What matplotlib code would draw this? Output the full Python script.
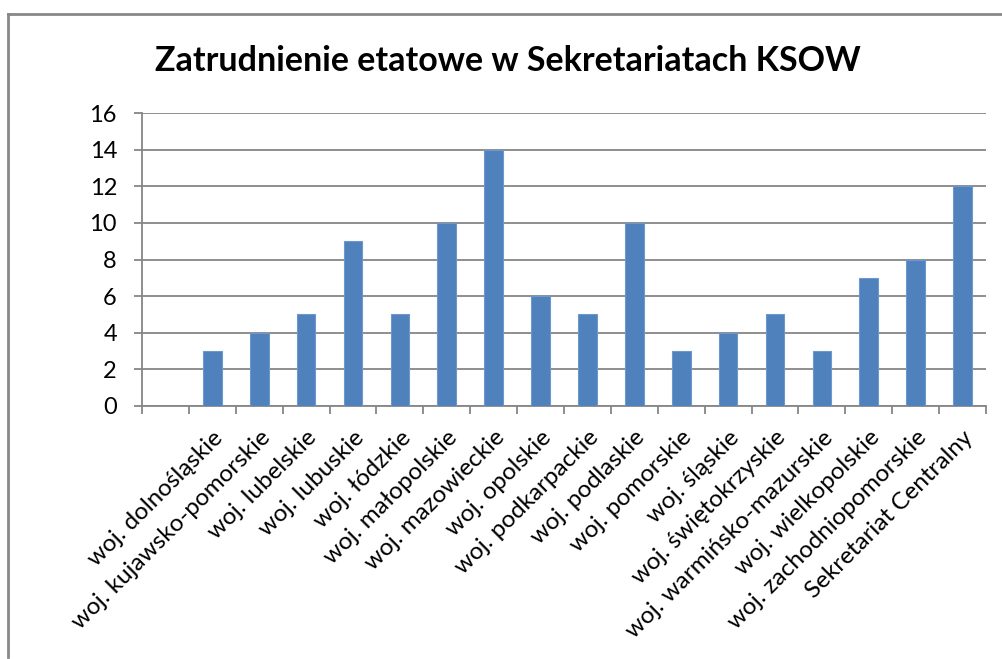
import matplotlib
matplotlib.use("Agg")
import matplotlib.pyplot as plt
from matplotlib.lines import Line2D

title = "Zatrudnienie etatowe w Sekretariatach KSOW"
categories = ["", "woj. dolnośląskie", "woj. kujawsko-pomorskie", "woj. lubelskie",
              "woj. lubuskie", "woj. łódzkie", "woj. małopolskie", "woj. mazowieckie",
              "woj. opolskie", "woj. podkarpackie", "woj. podlaskie", "woj. pomorskie",
              "woj. śląskie", "woj. świętokrzyskie", "woj. warmińsko-mazurskie",
              "woj. wielkopolskie", "woj. zachodniopomorskie", "Sekretariat Centralny"]
values = [None, 3, 4, 5, 9, 5, 10, 14, 6, 5, 10, 3, 4, 5, 3, 7, 8, 12]
y_ticks = [0, 2, 4, 6, 8, 10, 12, 14, 16]

plt.rcParams['font.family'] = ['Lato', 'DejaVu Sans']

W, H = 1003, 659
fig = plt.figure(figsize=(W / 100, H / 100), dpi=100)
ax = fig.add_axes([142 / W, 1 - 406 / H, (986 - 142) / W, (406 - 113) / H])

xs = list(range(len(categories)))
bx = [x for x, v in zip(xs, values) if v is not None]
bv = [v for v in values if v is not None]
ax.bar(bx, bv, width=0.4, color="#4F81BD", edgecolor="#6E97CB", linewidth=0.8, zorder=3)

ax.set_xlim(-0.5, len(categories) - 0.5)
ax.set_ylim(0, 16)
ax.set_yticks(y_ticks)
ax.set_yticklabels([str(t) for t in y_ticks], fontsize=17)
ax.yaxis.grid(True, color="#868686", linewidth=1.3, zorder=0)
ax.set_axisbelow(True)

# category boundary ticks
ax.set_xticks([x - 0.5 for x in xs] + [len(categories) - 0.5])
ax.set_xticklabels([])
ax.tick_params(axis="x", length=6, color="#868686", width=1.3)
ax.tick_params(axis="y", length=6, color="#868686", width=1.3, pad=12)
ax.set_xticks(xs, minor=True)
ax.set_xticklabels(categories, minor=True, rotation=45, ha="right", va="top",
                   rotation_mode="anchor", fontsize=17.5)
ax.tick_params(axis="x", which="minor", length=0, pad=15)

for s in ["top", "right"]:
    ax.spines[s].set_visible(False)
for s in ["left", "bottom"]:
    ax.spines[s].set_color("#868686")
    ax.spines[s].set_linewidth(1.3)

fig.text(508 / W, 1 - 61 / H, title, ha="center", va="center",
         fontsize=24.5, fontweight="bold")

# chart frame (partially visible)
fig.add_artist(Line2D([8 / W, 1.0], [1 - 14 / H, 1 - 14 / H], color="#888888", linewidth=2,
                      transform=fig.transFigure))
fig.add_artist(Line2D([8 / W, 8 / W], [1 - 14 / H, 1 - 657 / H], color="#888888", linewidth=2,
                      transform=fig.transFigure))

fig.savefig("out.png", dpi=100)
